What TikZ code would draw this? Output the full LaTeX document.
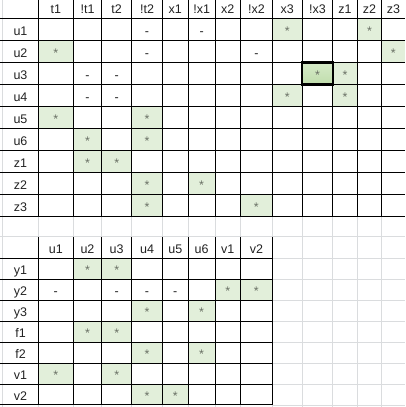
\documentclass[tikz,border=0pt]{standalone}
\usepackage{fontspec}
\setmainfont{Liberation Sans}
\definecolor{hitgreen}{RGB}{226,239,218}
\definecolor{selhi}{RGB}{214,234,200}
\definecolor{sello}{RGB}{192,221,172}
\definecolor{faintgray}{RGB}{218,220,222}
\definecolor{stargray}{RGB}{105,112,100}
\definecolor{inkgray}{RGB}{34,34,34}

\begin{document}
\begin{tikzpicture}[x=1pt, y=-1pt,
    lab/.style = {font=\fontsize{12.5}{14}\selectfont, text=inkgray, text height=12pt, text depth=0pt, inner sep=0pt},
    hit/.style = {lab, fill=hitgreen, text=stargray, minimum height=22pt},
    hitb/.style = {hit, minimum height=21pt},
    sel/.style = {hit, top color=selhi, bottom color=sello, draw=black, line width=2.2pt},
    rule/.style = {line width=1pt},
    faint/.style = {draw=faintgray, line width=0.8pt}]
    \useasboundingbox (0,0) rectangle (405,407);

    % sheet grid
    \draw[faint] (2.7,0) -- (2.7,407) (38.3,0) -- (38.3,407) (73.3,0) -- (73.3,407)
        (101.7,0) -- (101.7,407) (131.7,0) -- (131.7,407) (162.3,0) -- (162.3,407)
        (188.3,0) -- (188.3,407) (215,0) -- (215,407) (240.5,0) -- (240.5,407)
        (272.3,0) -- (272.3,407) (302.3,0) -- (302.3,407) (332.7,0) -- (332.7,407)
        (357.3,0) -- (357.3,407) (381.7,0) -- (381.7,407);
    \draw[faint] (0,236.7) -- (405,236.7) (272.3,258.3) -- (405,258.3) (272.3,279.25) -- (405,279.25)
        (272.3,300.2) -- (405,300.2) (272.3,321.15) -- (405,321.15) (272.3,342.1) -- (405,342.1)
        (272.3,363.05) -- (405,363.05) (272.3,384) -- (405,384) (272.3,404.95) -- (405,404.95);

    % first table: heads
    \node[lab] (ht1) at (55.8,7.28) {t1};
    \node[lab] (hnt1) at (87.5,7.28) {!t1};
    \node[lab] (ht2) at (116.7,7.28) {t2};
    \node[lab] (hnt2) at (147,7.28) {!t2};
    \node[lab] (hx1) at (175.3,7.28) {x1};
    \node[lab] (hnx1) at (201.65,7.28) {!x1};
    \node[lab] (hx2) at (227.75,7.28) {x2};
    \node[lab] (hnx2) at (256.4,7.28) {!x2};
    \node[lab] (hx3) at (287.3,7.28) {x3};
    \node[lab] (hnx3) at (317.5,7.28) {!x3};
    \node[lab] (hz1) at (345,7.28) {z1};
    \node[lab] (hz2) at (369.5,7.28) {z2};
    \node[lab] (hz3) at (393.35,7.28) {z3};

    \node[lab] (ru1) at (20.5,29.32) {u1};
    \node[lab] (ru2) at (20.5,51.36) {u2};
    \node[lab] (ru3) at (20.5,73.4) {u3};
    \node[lab] (ru4) at (20.5,95.44) {u4};
    \node[lab] (ru5) at (20.5,117.48) {u5};
    \node[lab] (ru6) at (20.5,139.52) {u6};
    \node[lab] (rz1) at (20.5,161.56) {z1};
    \node[lab] (rz2) at (20.5,183.6) {z2};
    \node[lab] (rz3) at (20.5,205.64) {z3};

    % first table: cells
    \node[lab] (u1nt2) at (147,29.32) {-};
    \node[lab] (u1nx1) at (201.65,29.32) {-};
    \node[hit, minimum width=30pt] (u1x3) at (287.3,29.32) {*};
    \node[hit, minimum width=24.4pt] (u1z2) at (369.5,29.32) {*};

    \node[hit, minimum width=35pt] (u2t1) at (55.8,51.36) {*};
    \node[lab] (u2nt2) at (147,51.36) {-};
    \node[lab] (u2nx2) at (256.4,51.36) {-};
    \node[hit, minimum width=23.3pt] (u2z3) at (393.35,51.36) {*};

    \node[lab] (u3nt1) at (87.5,73.4) {-};
    \node[lab] (u3t2) at (116.7,73.4) {-};
    \node[hit, minimum width=24.6pt] (u3z1) at (345,73.4) {*};

    \node[lab] (u4nt1) at (87.5,95.44) {-};
    \node[lab] (u4t2) at (116.7,95.44) {-};
    \node[hit, minimum width=30pt] (u4x3) at (287.3,95.44) {*};
    \node[hit, minimum width=24.6pt] (u4z1) at (345,95.44) {*};

    \node[hit, minimum width=35pt] (u5t1) at (55.8,117.48) {*};
    \node[hit, minimum width=30.6pt] (u5nt2) at (147,117.48) {*};

    \node[hit, minimum width=28.4pt] (u6nt1) at (87.5,139.52) {*};
    \node[hit, minimum width=30.6pt] (u6nt2) at (147,139.52) {*};

    \node[hit, minimum width=28.4pt] (z1nt1) at (87.5,161.56) {*};
    \node[hit, minimum width=30pt] (z1t2) at (116.7,161.56) {*};

    \node[hit, minimum width=30.6pt] (z2nt2) at (147,183.6) {*};
    \node[hit, minimum width=26.7pt] (z2nx1) at (201.65,183.6) {*};

    \node[hit, minimum width=30.6pt] (z3nt2) at (147,205.64) {*};
    \node[hit, minimum width=31.8pt] (z3nx2) at (256.4,205.64) {*};

    % second table: heads
    \node[lab] (ku1) at (55.8,247.5) {u1};
    \node[lab] (ku2) at (87.5,247.5) {u2};
    \node[lab] (ku3) at (116.7,247.5) {u3};
    \node[lab] (ku4) at (147,247.5) {u4};
    \node[lab] (ku5) at (175.3,247.5) {u5};
    \node[lab] (ku6) at (201.65,247.5) {u6};
    \node[lab] (kv1) at (227.75,247.5) {v1};
    \node[lab] (kv2) at (256.4,247.5) {v2};

    \node[lab] (ry1) at (20.5,268.78) {y1};
    \node[lab] (ry2) at (20.5,289.73) {y2};
    \node[lab] (ry3) at (20.5,310.68) {y3};
    \node[lab] (rf1) at (20.5,331.63) {f1};
    \node[lab] (rf2) at (20.5,352.58) {f2};
    \node[lab] (rv1) at (20.5,373.53) {v1};
    \node[lab] (rv2) at (20.5,394.48) {v2};

    % second table: cells
    \node[hitb, minimum width=28.4pt] (y1u2) at (87.5,268.78) {*};
    \node[hitb, minimum width=30pt] (y1u3) at (116.7,268.78) {*};

    \node[lab] (y2u1) at (55.8,289.73) {-};
    \node[lab] (y2u3) at (116.7,289.73) {-};
    \node[lab] (y2u4) at (147,289.73) {-};
    \node[lab] (y2u5) at (175.3,289.73) {-};
    \node[hitb, minimum width=25.5pt] (y2v1) at (227.75,289.73) {*};
    \node[hitb, minimum width=31.8pt] (y2v2) at (256.4,289.73) {*};

    \node[hitb, minimum width=30.6pt] (y3u4) at (147,310.68) {*};
    \node[hitb, minimum width=26.7pt] (y3u6) at (201.65,310.68) {*};

    \node[hitb, minimum width=28.4pt] (f1u2) at (87.5,331.63) {*};
    \node[hitb, minimum width=30pt] (f1u3) at (116.7,331.63) {*};

    \node[hitb, minimum width=30.6pt] (f2u4) at (147,352.58) {*};
    \node[hitb, minimum width=26.7pt] (f2u6) at (201.65,352.58) {*};

    \node[hitb, minimum width=35pt] (v1u1) at (55.8,373.53) {*};
    \node[hitb, minimum width=30pt] (v1u3) at (116.7,373.53) {*};

    \node[hitb, minimum width=30.6pt] (v2u4) at (147,394.48) {*};
    \node[hitb, minimum width=26pt] (v2u5) at (175.3,394.48) {*};

    % table rules
    \draw[rule] (0,18.3) -- (405,18.3) (0,40.34) -- (405,40.34) (0,62.38) -- (405,62.38)
        (0,84.42) -- (405,84.42) (0,106.46) -- (405,106.46) (0,128.5) -- (405,128.5)
        (0,150.54) -- (405,150.54) (0,172.58) -- (405,172.58) (0,194.62) -- (405,194.62)
        (0,216.66) -- (405,216.66);
    \draw[rule] (38.3,0) -- (38.3,216.66) (73.3,0) -- (73.3,216.66) (101.7,0) -- (101.7,216.66)
        (131.7,0) -- (131.7,216.66) (162.3,0) -- (162.3,216.66) (188.3,0) -- (188.3,216.66)
        (215,0) -- (215,216.66) (240.5,0) -- (240.5,216.66) (272.3,0) -- (272.3,216.66)
        (302.3,0) -- (302.3,216.66) (332.7,0) -- (332.7,216.66) (357.3,0) -- (357.3,216.66)
        (381.7,0) -- (381.7,216.66);
    \draw[rule] (0,258.3) -- (272.3,258.3) (0,279.25) -- (272.3,279.25) (0,300.2) -- (272.3,300.2)
        (0,321.15) -- (272.3,321.15) (0,342.1) -- (272.3,342.1) (0,363.05) -- (272.3,363.05)
        (0,384) -- (272.3,384) (0,404.95) -- (272.3,404.95);
    \draw[rule] (38.3,236.7) -- (38.3,404.95) (73.3,236.7) -- (73.3,404.95) (101.7,236.7) -- (101.7,404.95)
        (131.7,236.7) -- (131.7,404.95) (162.3,236.7) -- (162.3,404.95) (188.3,236.7) -- (188.3,404.95)
        (215,236.7) -- (215,404.95) (240.5,236.7) -- (240.5,404.95) (272.3,236.7) -- (272.3,404.95);

    % active cell
    \node[sel, minimum width=30.4pt] (u3nx3) at (317.5,73.4) {*};

\end{tikzpicture}
\end{document}
